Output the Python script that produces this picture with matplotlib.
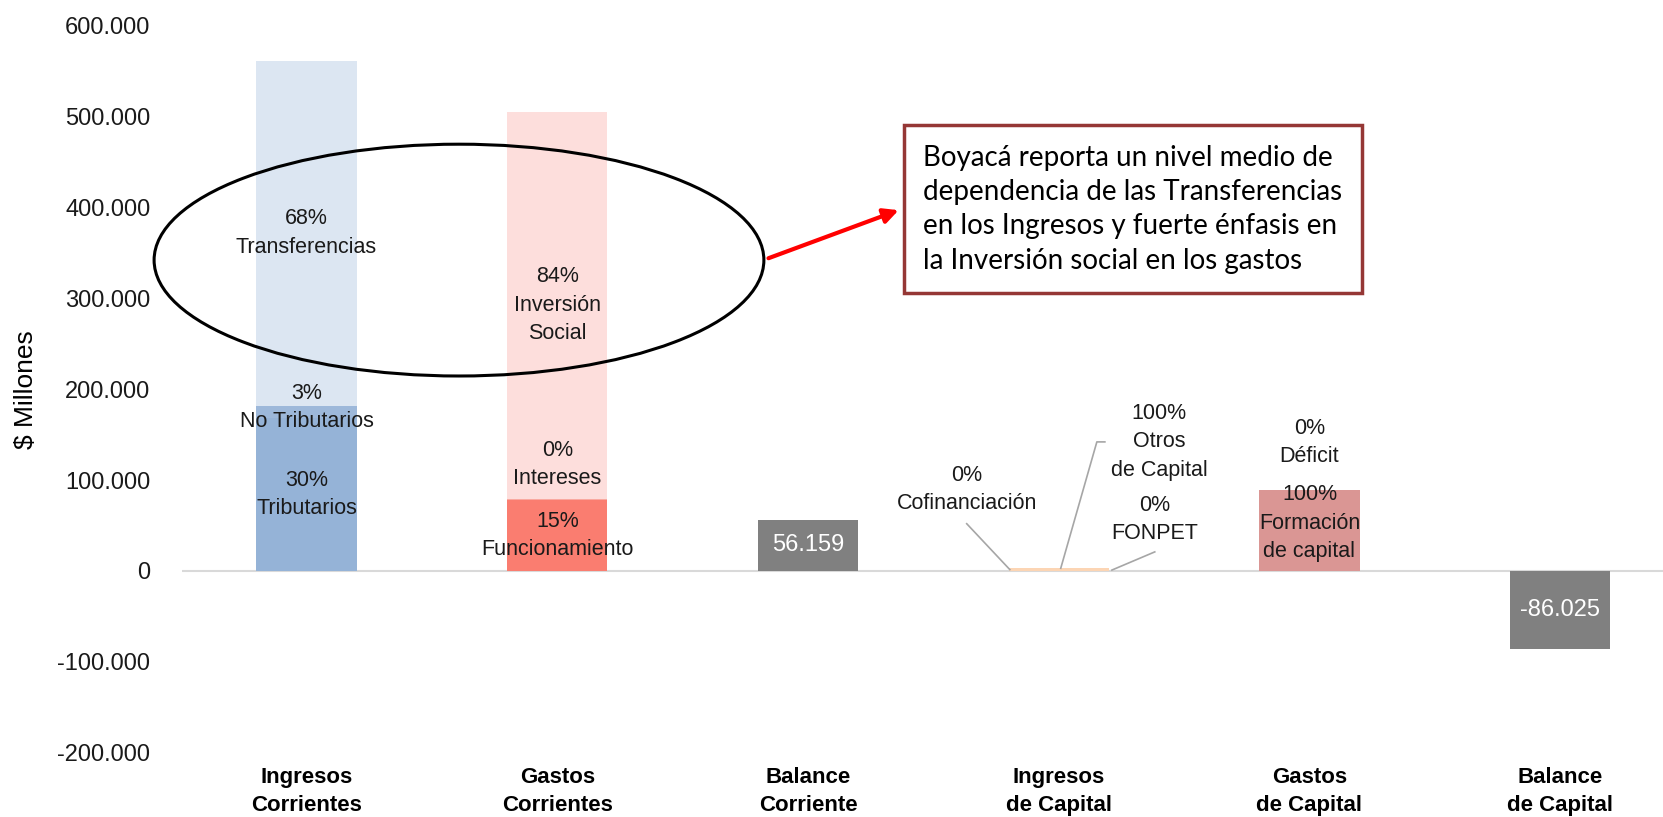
import matplotlib
matplotlib.use("Agg")
import matplotlib.pyplot as plt
from matplotlib.patches import Ellipse, FancyArrowPatch
import matplotlib.font_manager as fm

# data (millones de pesos)
categorias = ['Ingresos\nCorrientes', 'Gastos\nCorrientes', 'Balance\nCorriente',
              'Ingresos\nde Capital', 'Gastos\nde Capital', 'Balance\nde Capital']

ing_corr_nombres = ['Tributarios', 'No Tributarios', 'Transferencias']
ing_corr_valores = [168000, 14000, 379500]
ing_corr_pct = ['30%', '3%', '68%']

gas_corr_nombres = ['Funcionamiento', 'Intereses', 'Inversión\nSocial']
gas_corr_valores = [78000, 1500, 425800]
gas_corr_pct = ['15%', '0%', '84%']

ing_cap_nombres = ['Cofinanciación', 'Otros\nde Capital', 'FONPET']
ing_cap_valores = [0, 3400, 0]
ing_cap_pct = ['0%', '100%', '0%']

gas_cap_nombres = ['Formación\nde capital', 'Déficit']
gas_cap_valores = [89425, 0]
gas_cap_pct = ['100%', '0%']

balance_corriente = 56159
balance_capital = -86025

nota = ("Boyacá reporta un nivel medio de\n"
        "dependencia de las Transferencias\n"
        "en los Ingresos y fuerte énfasis en\n"
        "la Inversión social en los gastos")

names = {f.name for f in fm.fontManager.ttflist}
narrow = 'Liberation Sans Narrow' if 'Liberation Sans Narrow' in names else 'Liberation Sans'
box_font = 'Lato' if 'Lato' in names else 'DejaVu Sans'

plt.rcParams['font.family'] = ['Liberation Sans', 'DejaVu Sans']

fig = plt.figure(figsize=(16.63, 8.17), dpi=100)
ax = fig.add_axes([0.1097, 0.0786, 0.8903, 0.8901])
ax.set_xlim(-0.495, 5.41)
ax.set_ylim(-200000, 600000)

w = 0.4
lab_kw = dict(ha='center', va='center', fontsize=15.5, family=narrow, color='#1a1a1a',
              linespacing=1.45)

# Ingresos corrientes
colores_ic = ['#95B3D7', '#9DB8DA', '#DCE6F2']
base = 0
for v, c, n, p in zip(ing_corr_valores, colores_ic, ing_corr_nombres, ing_corr_pct):
    ax.bar(0, v, w, bottom=base, color=c, linewidth=0)
    ymid = base + v / 2
    if n == 'No Tributarios':
        ymid += 5000
    ax.text(0, ymid, p + '\n' + n, **lab_kw)
    base += v

# Gastos corrientes
colores_gc = ['#FA7D70', '#F9A9A0', '#FDDEDC']
base = 0
for v, c, n, p in zip(gas_corr_valores, colores_gc, gas_corr_nombres, gas_corr_pct):
    ax.bar(1, v, w, bottom=base, color=c, linewidth=0)
    ymid = base + v / 2
    if n == 'Intereses':
        ymid += 38000
    ax.text(1, ymid, p + '\n' + n, **lab_kw)
    base += v

# Balances
for x, v in [(2, balance_corriente), (5, balance_capital)]:
    ax.bar(x, v, w, color='#808080', linewidth=0)
    ax.text(x, v / 2, f"{v:,}".replace(',', '.'), ha='center', va='center',
            fontsize=17, family=narrow, color='white')

# Ingresos de capital
base = 0
for v in ing_cap_valores:
    ax.bar(3, v, w, bottom=base, color='#FCD5B4', linewidth=0)
    base += v
# etiquetas con líneas guía
guia = dict(color='#A6A6A6', lw=1.2)
ax.text(2.633, 90000, ing_cap_pct[0] + '\n' + ing_cap_nombres[0], **lab_kw)
ax.plot([2.633, 2.805], [52000, 1500], **guia)
ax.text(3.40, 142000, ing_cap_pct[1] + '\n' + ing_cap_nombres[1], **lab_kw)
ax.plot([3.184, 3.152, 3.008], [142000, 142000, 3000], **guia)
ax.text(3.383, 57000, ing_cap_pct[2] + '\n' + ing_cap_nombres[2], **lab_kw)
ax.plot([3.383, 3.212], [21000, 1000], **guia)

# Gastos de capital
base = 0
for v, c in zip(gas_cap_valores, ['#DA9694', '#E6B9B8']):
    ax.bar(4, v, w, bottom=base, color=c, linewidth=0)
    base += v
ax.text(4, gas_cap_valores[0] / 2 + 8000, gas_cap_pct[0] + '\n' + gas_cap_nombres[0], **lab_kw)
ax.text(4, gas_cap_valores[0] + 52000, gas_cap_pct[1] + '\n' + gas_cap_nombres[1], **lab_kw)

# ejes
ax.axhline(0, color='#D9D9D9', lw=1.5, zorder=0)
for s in ax.spines.values():
    s.set_visible(False)
ax.set_xticks(range(len(categorias)))
ax.set_xticklabels(categorias, family=narrow, fontsize=16, fontweight='bold', linespacing=1.45)
ax.tick_params(axis='x', length=0, pad=10)
ax.set_yticks(range(-200000, 600001, 100000))
ax.set_yticklabels([f"{v:,}".replace(',', '.') for v in range(-200000, 600001, 100000)],
                   fontsize=17, color='#1a1a1a')
ax.tick_params(axis='y', length=0, pad=23)
ax.set_ylabel('$ Millones', family=narrow, fontsize=19, labelpad=14)

# elipse y nota
ax.add_patch(Ellipse((0.608, 342000), 2.432, 255000, fill=False, edgecolor='black',
                     lw=2.2, zorder=5, clip_on=False))
ax.add_patch(FancyArrowPatch((1.832, 343000), (2.372, 398000), arrowstyle='-|>',
                             mutation_scale=22, color='#FF0000', lw=3, zorder=6))
fig.text(0.555, 0.744, nota, ha='left', va='center', fontsize=20, family=box_font,
         linespacing=1.4,
         bbox=dict(boxstyle='square,pad=0.7', facecolor='white', edgecolor='#953735', lw=2.5))

fig.savefig('out.png', dpi=100)
